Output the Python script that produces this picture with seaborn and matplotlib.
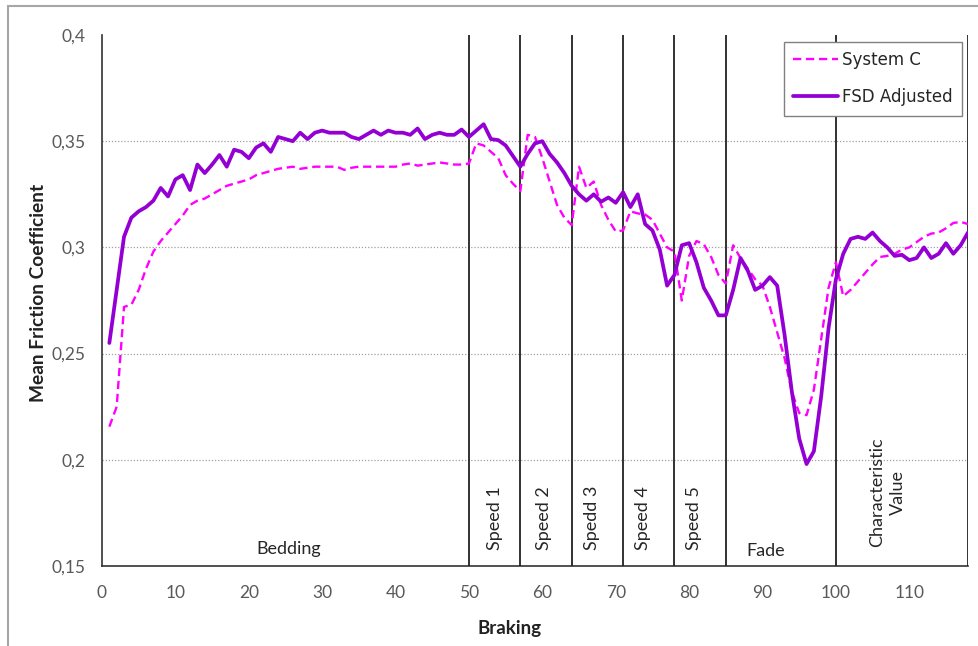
import numpy as np
import pandas as pd
import matplotlib
matplotlib.use("Agg")
import matplotlib.pyplot as plt
from matplotlib.patches import Rectangle
import seaborn as sns

# Braking number (x) and mean friction coefficient for the two systems
braking = list(range(1, 119))

system_c = [
    0.2156, 0.225, 0.272, 0.273, 0.280, 0.290, 0.298, 0.303, 0.307, 0.311,
    0.315, 0.320, 0.322, 0.323, 0.325, 0.327, 0.329, 0.330, 0.331, 0.332,
    0.334, 0.335, 0.336, 0.337, 0.3375, 0.338, 0.337, 0.3375, 0.338, 0.338,
    0.338, 0.338, 0.3365, 0.3375, 0.338, 0.338, 0.338, 0.338, 0.338, 0.338,
    0.339, 0.3395, 0.3385, 0.339, 0.3395, 0.340, 0.3395, 0.339, 0.339, 0.3395,
    0.349, 0.348, 0.345, 0.342, 0.334, 0.330, 0.3265, 0.353, 0.352, 0.342,
    0.331, 0.320, 0.314, 0.3105, 0.338, 0.328, 0.331, 0.320, 0.313, 0.3075,
    0.308, 0.317, 0.316, 0.3155, 0.313, 0.3065, 0.300, 0.298, 0.275, 0.296,
    0.303, 0.3015, 0.2955, 0.287, 0.283, 0.301, 0.295, 0.290, 0.285, 0.282,
    0.272, 0.260, 0.248, 0.232, 0.222, 0.221, 0.233, 0.257, 0.281, 0.293,
    0.277, 0.280, 0.284, 0.288, 0.292, 0.2955, 0.296, 0.297, 0.299, 0.300,
    0.3025, 0.305, 0.3065, 0.307, 0.309, 0.3115, 0.312, 0.311,
]

fsd_adjusted = [
    0.255, 0.280, 0.305, 0.314, 0.317, 0.319, 0.322, 0.328, 0.324, 0.332,
    0.334, 0.327, 0.339, 0.335, 0.339, 0.3435, 0.338, 0.346, 0.345, 0.342,
    0.347, 0.349, 0.345, 0.352, 0.351, 0.350, 0.354, 0.351, 0.354, 0.355,
    0.354, 0.354, 0.354, 0.352, 0.351, 0.353, 0.355, 0.353, 0.355, 0.354,
    0.354, 0.353, 0.356, 0.351, 0.353, 0.354, 0.353, 0.353, 0.3555, 0.352,
    0.355, 0.358, 0.351, 0.3505, 0.348, 0.343, 0.338, 0.344, 0.349, 0.350,
    0.344, 0.340, 0.335, 0.329, 0.325, 0.322, 0.325, 0.3215, 0.3235, 0.321,
    0.326, 0.319, 0.325, 0.311, 0.308, 0.299, 0.282, 0.287, 0.301, 0.302,
    0.293, 0.281, 0.275, 0.268, 0.268, 0.280, 0.295, 0.289, 0.280, 0.282,
    0.286, 0.282, 0.259, 0.232, 0.210, 0.198, 0.204, 0.230, 0.262, 0.285,
    0.297, 0.304, 0.305, 0.304, 0.307, 0.303, 0.300, 0.296, 0.2965, 0.294,
    0.295, 0.300, 0.295, 0.297, 0.302, 0.297, 0.301, 0.307,
]

# Test phases: boundaries and labels
phase_bounds = [50, 57, 64, 71, 78, 85, 100, 118]
vertical_phases = ["Speed 1", "Speed 2", "Spedd 3", "Speed 4", "Speed 5"]
vertical_phase_x = [53.6, 60.2, 66.8, 73.7, 80.6]

y_ticks = [0.15, 0.2, 0.25, 0.3, 0.35, 0.4]
y_tick_labels = ["0,15", "0,2", "0,25", "0,3", "0,35", "0,4"]
x_ticks = list(range(0, 111, 10))

sns.set_style("white")
plt.rcParams["font.family"] = ["Lato", "DejaVu Sans"]

W, H = 979, 646
fig = plt.figure(figsize=(W / 100, H / 100), dpi=100)
ax = fig.add_axes([102 / W, 1 - 566 / H, 866 / W, 531 / H])

df = pd.DataFrame({"Braking": braking, "System C": system_c, "FSD Adjusted": fsd_adjusted})

sns.lineplot(data=df, x="Braking", y="System C", ax=ax, color="#FF00FF",
             linewidth=1.7, linestyle=(0, (3.5, 2)), label="System C", zorder=4)
sns.lineplot(data=df, x="Braking", y="FSD Adjusted", ax=ax, color="#9400D3",
             linewidth=2.7, label="FSD Adjusted", zorder=5)

ax.set_xlim(0, 118)
ax.set_ylim(0.15, 0.4)

# Horizontal dotted gridlines
for yv in y_ticks[1:-1]:
    ax.axhline(yv, color="#A0A0A0", linestyle=(0, (1, 1.5)), linewidth=0.9, zorder=1)

# Phase separators
for xb in phase_bounds:
    ax.axvline(xb, color="#222222", linewidth=1.3, zorder=3)

ax.set_yticks(y_ticks)
ax.set_yticklabels(y_tick_labels)
ax.set_xticks(x_ticks)
ax.tick_params(axis="both", direction="out", length=5, width=1, color="#808080",
               labelcolor="#595959", labelsize=12.5)
ax.tick_params(axis="y", pad=7)
ax.tick_params(axis="x", pad=9)

for side in ["top", "right"]:
    ax.spines[side].set_visible(False)
for side in ["left", "bottom"]:
    ax.spines[side].set_color("#333333")
    ax.spines[side].set_linewidth(1.2)

ax.set_xlabel("Braking", fontsize=13.5, fontweight="bold", color="#222222")
ax.set_ylabel("Mean Friction Coefficient", fontsize=13.8, fontweight="bold", color="#222222")
ax.xaxis.set_label_coords((510 - 102) / 866, (566 - 620) / 531)
ax.yaxis.set_label_coords((47 - 102) / 866, (566 - 293) / 531)

# Phase labels
trans = ax.get_xaxis_transform()
lab_kw = dict(fontsize=13, color="#262626", transform=trans)
ax.text(25.4, 0.032, "Bedding", ha="center", va="center", **lab_kw)
ax.text(90.5, 0.028, "Fade", ha="center", va="center", **lab_kw)
for xp, name in zip(vertical_phase_x, vertical_phases):
    ax.text(xp, 0.03, name, rotation=90, ha="center", va="bottom", **lab_kw)
ax.text(107.0, 0.036, "Characteristic\nValue", rotation=90, ha="center", va="bottom",
        multialignment="center", linespacing=1.35, **lab_kw)

leg = ax.legend(loc="upper right", bbox_to_anchor=((962 - 102) / 866, (566 - 42) / 531),
                borderaxespad=0, frameon=True, fancybox=False, handlelength=2.7,
                labelspacing=1.15, borderpad=0.55, handletextpad=0.25,
                prop={"family": "DejaVu Sans", "size": 12})
leg.get_frame().set_edgecolor("#808080")
leg.get_frame().set_linewidth(1.0)
leg.get_frame().set_alpha(1)
leg.set_zorder(10)

# Outer chart frame
fig.patches.append(Rectangle((8 / W, -0.05), 1.1, 1 - 6 / H + 0.05,
                             transform=fig.transFigure, fill=False,
                             edgecolor="#A6A6A6", linewidth=1.5))

fig.savefig("out.png", dpi=100)
